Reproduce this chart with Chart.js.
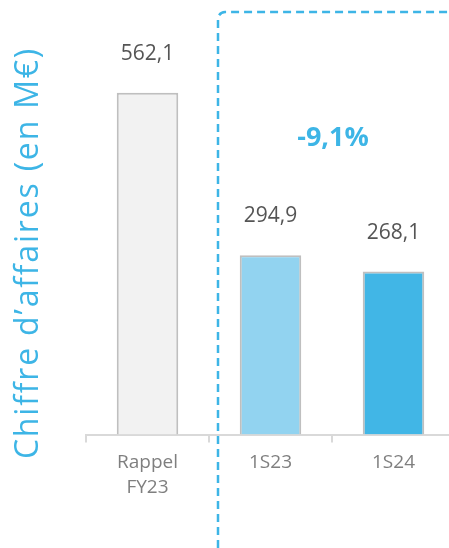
<!DOCTYPE html>
<html>
<head>
<meta charset="utf-8">
<script src="https://cdn.jsdelivr.net/npm/chart.js@4/dist/chart.umd.min.js"></script>
<style>
  html, body { margin: 0; padding: 0; background: #fff; overflow: hidden; }
  #wrap { width: 456px; height: 548px; }
</style>
</head>
<body>
<div id="wrap"><canvas id="caChart" width="456" height="548"></canvas></div>
<script>
// Data
const categories = [["Rappel", "FY23"], "1S23", "1S24"];
const revenue = [562.1, 294.9, 268.1];
const valueLabels = ["562,1", "294,9", "268,1"];
const changeLabel = "-9,1%";

const blue = "#3db5e6";
const fontName = "'Open Sans', sans-serif";

// value labels above bars, y title, dashed box and variation label
const annotations = {
  id: "annotations",
  afterDatasetsDraw(chart) {
    const ctx = chart.ctx;
    const meta = chart.getDatasetMeta(0);
    ctx.save();
    ctx.fillStyle = "#555";
    ctx.font = "21px " + fontName;
    ctx.textAlign = "center";
    ctx.textBaseline = "middle";
    meta.data.forEach((bar, i) => {
      ctx.fillText(valueLabels[i], bar.x, bar.y - 39);
    });

    // y axis title
    ctx.save();
    ctx.translate(29, 253);
    ctx.rotate(-Math.PI / 2);
    ctx.fillStyle = blue;
    ctx.font = "32px " + fontName;
    ctx.letterSpacing = "1.8px";
    ctx.fillText("Chiffre d’affaires (en M€)", 0, 0);
    ctx.restore();

    // dashed box around the half-year bars
    const x0 = (meta.data[0].x + meta.data[1].x) / 2 + 9;
    const top = 12, r = 7;
    ctx.strokeStyle = blue;
    ctx.lineWidth = 2.5;
    ctx.setLineDash([8, 5]);
    ctx.beginPath();
    ctx.moveTo(x0, chart.height);
    ctx.lineTo(x0, top + r);
    ctx.arcTo(x0, top, x0 + r, top, r);
    ctx.lineTo(chart.width, top);
    ctx.stroke();
    ctx.setLineDash([]);

    ctx.fillStyle = blue;
    ctx.font = "bold 27px " + fontName;
    ctx.fillText(changeLabel, (meta.data[1].x + meta.data[2].x) / 2 + 1, 138);
    ctx.restore();
  }
};

new Chart(document.getElementById("caChart"), {
  type: "bar",
  data: {
    labels: categories,
    datasets: [{
      data: revenue,
      backgroundColor: ["#f2f2f2", "#92d3f0", "#41b6e6"],
      borderColor: "#bfbfbf",
      borderWidth: 2,
      borderSkipped: "bottom",
      barPercentage: 0.5,
      categoryPercentage: 1
    }]
  },
  options: {
    responsive: false,
    animation: false,
    layout: { padding: { left: 86, right: 1, top: 12, bottom: 40 } },
    plugins: { legend: { display: false }, tooltip: { enabled: false } },
    scales: {
      x: {
        grid: { offset: true, drawOnChartArea: false, tickLength: 8, color: "#d9d9d9", lineWidth: 2 },
        border: { color: "#d9d9d9", width: 2 },
        ticks: { color: "#7f7f7f", font: { family: fontName, size: 19, lineHeight: 1.3 }, padding: 8 }
      },
      y: { display: false, min: 0, max: 695 }
    }
  },
  plugins: [annotations]
});
</script>
</body>
</html>
